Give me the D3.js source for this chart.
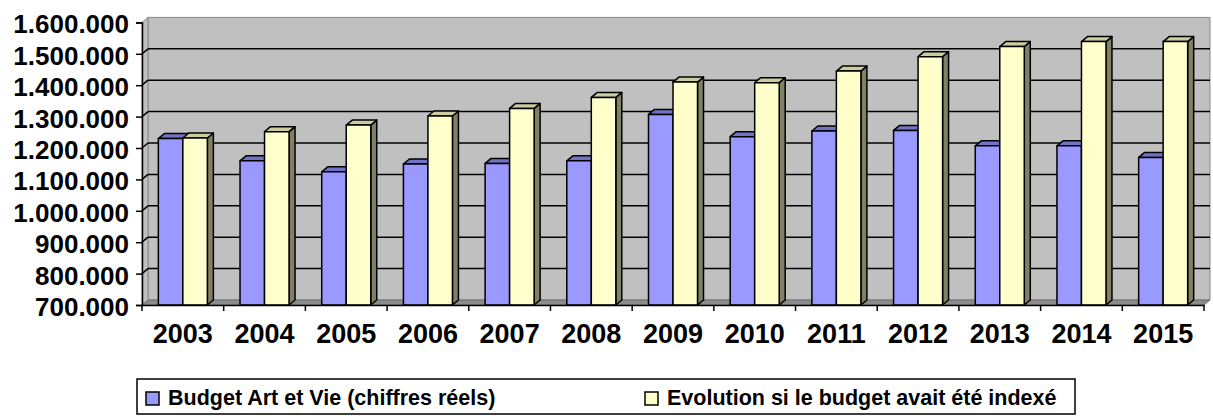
<!DOCTYPE html>
<html>
<head>
<meta charset="utf-8">
<script src="https://cdn.jsdelivr.net/npm/d3@7"></script>
<style>
  html, body { margin: 0; padding: 0; background: #fff; }
  text { font-family: "Liberation Sans", Arial, sans-serif; font-weight: bold; }
</style>
</head>
<body>
<script>
const width  = 1213
const height = 416

// data
const years   = ["2003","2004","2005","2006","2007","2008","2009","2010","2011","2012","2013","2014","2015"];
const reel    = [1230000,1159000,1124000,1149000,1151000,1159000,1307000,1236000,1254000,1256000,1207000,1207000,1170000];
const indexe  = [1232000,1252000,1273000,1302000,1326000,1361000,1410000,1408000,1445000,1491000,1523000,1539000,1539000];
const seriesNames = ["Budget Art et Vie (chiffres réels)", "Evolution si le budget avait été indexé"];
const yTicks  = [700000,800000,900000,1000000,1100000,1200000,1300000,1400000,1500000,1600000];

const colors = [
  {front: "#9999ff", top: "#7373c6", side: "#5c5c99"},
  {front: "#ffffcc", top: "#cccc9f", side: "#808066"}
];

const left = 142, right = 1204, floorY = 305, topY = 22.4;
const dx = 6, dy = 5;

const svg = d3.select("body").append("svg")
	.attr("width", width)
	.attr("height", height);

const x = d3.scaleBand().domain(years).range([left, right]);
const xs = d3.scaleBand().domain([0, 1])
	.range([x.bandwidth()*0.2, x.bandwidth()*0.8]);
const y = d3.scaleLinear().domain([700000, 1600000]).range([floorY, topY]);

const fmt = v => d3.format(",")(v).replace(/,/g, ".");

// walls
svg.append("polygon")
	.attr("points", [[left+dx, y(1600000)-dy],[right+dx, y(1600000)-dy],[right+dx, floorY-dy],[left+dx, floorY-dy]].join(" "))
	.attr("fill", "#c0c0c0")
	.attr("stroke", "#8a8a8a");
svg.append("polygon")
	.attr("points", [[left, floorY],[left+dx, floorY-dy],[left+dx, y(1600000)-dy],[left, y(1600000)]].join(" "))
	.attr("fill", "#c0c0c0")
	.attr("stroke", "#8a8a8a");

// gridlines
const grid = svg.append("g").attr("stroke", "#000").attr("stroke-width", 1.5);
grid.selectAll("line.back")
.data(yTicks.filter(v => v > 700000 && v < 1600000))
.join("line")
	.attr("x1", left+dx).attr("x2", right+dx)
	.attr("y1", d => y(d)-dy).attr("y2", d => y(d)-dy);
grid.selectAll("line.side")
.data(yTicks.filter(v => v > 700000 && v < 1600000))
.join("line").attr("class", "side")
	.attr("x1", left).attr("x2", left+dx)
	.attr("y1", d => y(d)).attr("y2", d => y(d)-dy);

// floor
svg.append("polygon")
	.attr("points", [[left, floorY],[right, floorY],[right+dx, floorY-dy],[left+dx, floorY-dy]].join(" "))
	.attr("fill", "#8c8c8c")
	.attr("stroke", "#6e6e6e");

// bars
const bars = [];
years.forEach((yr, i) => {
	[reel[i], indexe[i]].forEach((v, s) => bars.push({year: yr, s: s, v: v}));
});

const g = svg.append("g")
	.attr("stroke", "#000")
	.attr("stroke-width", 1.5)
	.attr("stroke-linejoin", "round");

const bar = g.selectAll("g")
.data(bars)
.join("g");

bar.append("polygon")
	.attr("fill", d => colors[d.s].side)
	.attr("points", d => {
		const x0 = x(d.year) + xs(d.s) + xs.bandwidth(), yv = y(d.v);
		return [[x0, yv],[x0+dx, yv-dy],[x0+dx, floorY-dy],[x0, floorY]].join(" ");
	});
bar.append("polygon")
	.attr("fill", d => colors[d.s].top)
	.attr("points", d => {
		const x0 = x(d.year) + xs(d.s), w = xs.bandwidth(), yv = y(d.v);
		return [[x0, yv],[x0+dx, yv-dy],[x0+w+dx, yv-dy],[x0+w, yv]].join(" ");
	});
bar.append("rect")
	.attr("fill", d => colors[d.s].front)
	.attr("x", d => x(d.year) + xs(d.s))
	.attr("width", xs.bandwidth())
	.attr("y", d => y(d.v))
	.attr("height", d => floorY - y(d.v));

// value axis
svg.append("g")
	.attr("transform", `translate(${left},0)`)
	.call(d3.axisLeft(y).tickValues(yTicks).tickSize(6).tickPadding(7).tickFormat(fmt))
	.call(a => a.select(".domain").attr("stroke", "#000").attr("stroke-width", 1.5))
	.call(a => a.selectAll(".tick line").attr("stroke", "#000").attr("stroke-width", 1.5))
	.call(a => a.selectAll("text")
		.attr("font-size", 26)
		.attr("font-family", "Liberation Sans, Arial, sans-serif")
		.attr("font-weight", "bold")
		.attr("fill", "#000")
		.attr("dy", "0.4em"));

// category axis
const xa = svg.append("g")
	.attr("transform", `translate(0,${floorY})`)
	.call(d3.axisBottom(x).tickSize(0).tickPadding(19))
	.call(a => a.select(".domain").attr("stroke", "#000").attr("stroke-width", 1.5))
	.call(a => a.selectAll("text")
		.attr("font-size", 27)
		.attr("font-family", "Liberation Sans, Arial, sans-serif")
		.attr("font-weight", "bold")
		.attr("fill", "#000"));
xa.selectAll("line.bound")
.data(years.concat(["end"]))
.join("line").attr("class", "bound")
	.attr("x1", d => d === "end" ? right : x(d))
	.attr("x2", d => d === "end" ? right : x(d))
	.attr("y1", 0).attr("y2", 6)
	.attr("stroke", "#000").attr("stroke-width", 1.5);

// legend
const leg = svg.append("g");
leg.append("rect")
	.attr("x", 137).attr("y", 379)
	.attr("width", 938).attr("height", 35)
	.attr("fill", "#fff").attr("stroke", "#000").attr("stroke-width", 1.5);
const legX = [146, 645];
const item = leg.selectAll("g.item")
.data(seriesNames)
.join("g").attr("class", "item")
	.attr("transform", (d, i) => `translate(${legX[i]},392)`);
item.append("rect")
	.attr("width", 13).attr("height", 13)
	.attr("fill", (d, i) => colors[i].front)
	.attr("stroke", "#000").attr("stroke-width", 1.5);
item.append("text")
	.attr("x", 22).attr("y", 13)
	.attr("font-size", 21.5)
	.text(d => d);
</script>
</body>
</html>
